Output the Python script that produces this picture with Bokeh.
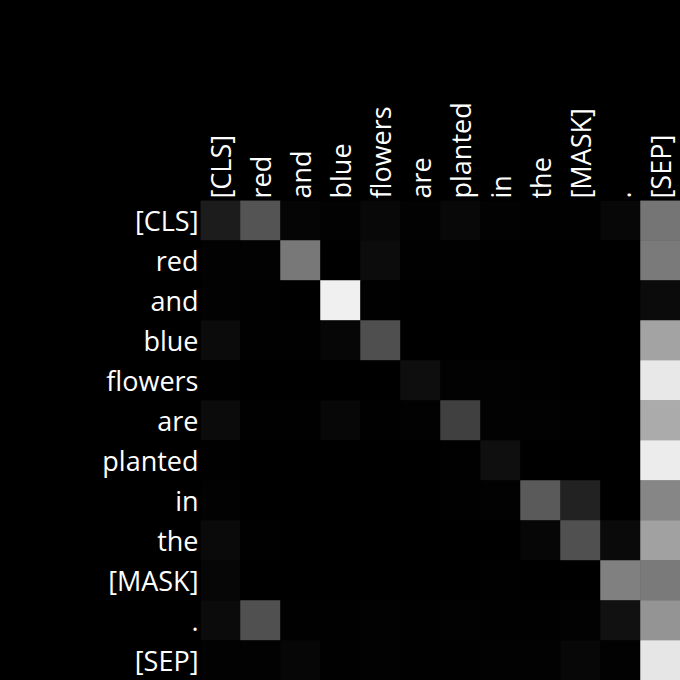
from bokeh.plotting import figure
from bokeh.models import ColumnDataSource, LinearColorMapper, FactorRange
from bokeh.transform import transform
from bokeh.embed import file_html
from bokeh.resources import INLINE

tokens = ["[CLS]", "red", "and", "blue", "flowers", "are", "planted", "in",
          "the", "[MASK]", ".", "[SEP]"]

# attention weights, one row per query token (rows) over key tokens (columns)
att_cls     = [0.11, 0.33, 0.02, 0.01, 0.035, 0.01, 0.035, 0.01, 0.005, 0.005, 0.03, 0.46]
att_red     = [0.01, 0.01, 0.47, 0.0, 0.05, 0.005, 0.005, 0.0, 0.0, 0.0, 0.0, 0.48]
att_and     = [0.01, 0.005, 0.0, 0.94, 0.005, 0.0, 0.0, 0.0, 0.0, 0.0, 0.0, 0.045]
att_blue    = [0.045, 0.005, 0.005, 0.025, 0.31, 0.0, 0.0, 0.0, 0.0, 0.0, 0.0, 0.64]
att_flowers = [0.005, 0.0, 0.0, 0.0, 0.0, 0.055, 0.01, 0.01, 0.005, 0.0, 0.0, 0.91]
att_are     = [0.045, 0.005, 0.005, 0.03, 0.005, 0.01, 0.25, 0.01, 0.01, 0.005, 0.0, 0.67]
att_planted = [0.005, 0.0, 0.0, 0.0, 0.0, 0.0, 0.005, 0.06, 0.0, 0.0, 0.0, 0.925]
att_in      = [0.01, 0.0, 0.0, 0.0, 0.0, 0.0, 0.005, 0.01, 0.355, 0.135, 0.0, 0.525]
att_the     = [0.04, 0.005, 0.0, 0.0, 0.0, 0.0, 0.0, 0.0, 0.025, 0.315, 0.04, 0.63]
att_mask    = [0.025, 0.0, 0.0, 0.0, 0.0, 0.0, 0.0, 0.005, 0.0, 0.0, 0.5, 0.48]
att_dot     = [0.045, 0.315, 0.005, 0.005, 0.01, 0.005, 0.01, 0.005, 0.005, 0.01, 0.07, 0.58]
att_sep     = [0.01, 0.01, 0.025, 0.005, 0.01, 0.005, 0.005, 0.01, 0.01, 0.03, 0.01, 0.9]

rows = [att_cls, att_red, att_and, att_blue, att_flowers, att_are, att_planted,
        att_in, att_the, att_mask, att_dot, att_sep]

xs, ys, vs = [], [], []
for qi, row in enumerate(rows):
    for ki, v in enumerate(row):
        xs.append(tokens[ki])
        ys.append(tokens[qi])
        vs.append(v)

src = ColumnDataSource(dict(x=xs, y=ys, v=vs))

gray = ["#%02x%02x%02x" % (i, i, i) for i in range(256)]
mapper = LinearColorMapper(palette=gray, low=0.0, high=1.0)

p = figure(width=680, height=680, output_backend="svg", toolbar_location=None,
           x_range=FactorRange(*tokens), y_range=FactorRange(*tokens[::-1]),
           x_axis_location="above", min_border_left=200, min_border_top=200,
           min_border_right=0, min_border_bottom=0)

p.rect(x="x", y="y", width=1, height=1, source=src,
       fill_color=transform("v", mapper), line_color=transform("v", mapper),
       line_width=0.5)

p.background_fill_color = None
p.border_fill_color = "black"
p.outline_line_color = None
p.grid.grid_line_color = None
p.styles = {"background-color": "black"}

for ax in (p.xaxis[0], p.yaxis[0]):
    ax.axis_line_color = None
    ax.major_tick_line_color = None
    ax.minor_tick_line_color = None
    ax.major_tick_out = 0
    ax.major_tick_in = 0
    ax.major_label_text_color = "white"
    ax.major_label_text_font = "Open Sans"
    ax.major_label_text_font_size = "27px"
    ax.major_label_standoff = 2

p.xaxis.major_label_orientation = "vertical"
p.x_range.range_padding = 0
p.y_range.range_padding = 0

open("out.html", "w").write(file_html(p, INLINE))
